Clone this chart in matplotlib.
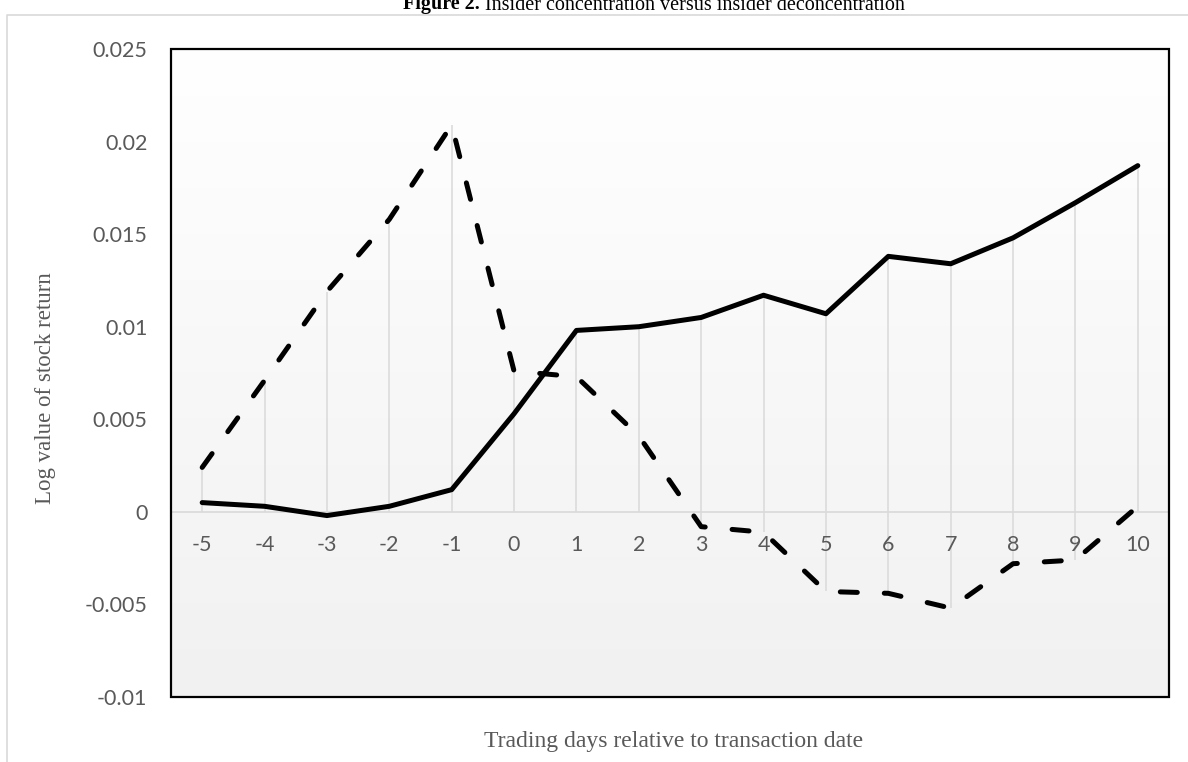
import matplotlib
matplotlib.use('Agg')
import matplotlib.pyplot as plt
import numpy as np
from matplotlib.colors import LinearSegmentedColormap
from matplotlib.lines import Line2D
from matplotlib.patches import Rectangle

# values
days = list(range(-5, 11))
concentration = [0.0005, 0.0003, -0.0002, 0.0003, 0.0012, 0.0053, 0.0098, 0.0100,
                 0.0105, 0.0117, 0.0107, 0.0138, 0.0134, 0.0148, 0.0167, 0.0187]
deconcentration = [0.0024, 0.0071, 0.0119, 0.0158, 0.0209, 0.0076, 0.0073, 0.0041,
                   -0.0008, -0.0011, -0.0043, -0.0044, -0.0052, -0.0028, -0.0026, 0.0003]
y_ticks = [-0.01, -0.005, 0, 0.005, 0.01, 0.015, 0.02, 0.025]
y_tick_labels = ['-0.01', '-0.005', '0', '0.005', '0.01', '0.015', '0.02', '0.025']
x_tick_labels = [str(d) for d in days]

W, H = 1188, 762
fig = plt.figure(figsize=(W / 100, H / 100), dpi=100)
fig.patch.set_facecolor('white')

# outer chart border (light gray), cut by the page edge
fig.add_artist(Line2D([7 / W, 7 / W, 1.0], [0, 1 - 15 / H, 1 - 15 / H],
                      transform=fig.transFigure, color='#d9d9d9', lw=1.2))

ax = fig.add_axes([171 / W, 1 - 697 / H, 998 / W, 648 / H])

# plot area gradient
grad = np.linspace(0, 1, 256).reshape(-1, 1)
cmap = LinearSegmentedColormap.from_list('bg', ['#ffffff', '#f1f1f1'])
ax.imshow(grad, cmap=cmap, extent=[-5.5, 10.5, -0.01, 0.025], aspect='auto',
          origin='upper', zorder=0)

# drop lines
a = np.array(concentration)
b = np.array(deconcentration)
lows = np.minimum(np.minimum(a, b), 0)
highs = np.maximum(np.maximum(a, b), 0)
ax.vlines(days, lows, highs, color='#d9d9d9', lw=1.1, zorder=1)

ax.plot(days, concentration, color='black', lw=3.6, solid_capstyle='round',
        solid_joinstyle='round', zorder=3)
ax.plot(days, deconcentration, color='black', lw=3.6, linestyle=(0, (3.4, 5.4)),
        dash_capstyle='round', dash_joinstyle='round', zorder=3)

ax.set_xlim(-5.5, 10.5)
ax.set_ylim(-0.01, 0.025)

for s in ['top', 'left', 'right']:
    ax.spines[s].set_visible(False)
ax.spines['bottom'].set_position(('data', 0))
ax.spines['bottom'].set_color('#d9d9d9')
ax.spines['bottom'].set_linewidth(1.2)
ax.spines['bottom'].set_zorder(1)

ax.set_xticks(days)
ax.set_xticklabels(x_tick_labels, fontfamily='Lato')
ax.set_yticks(y_ticks)
ax.set_yticklabels(y_tick_labels, fontfamily='Lato')
ax.tick_params(axis='both', length=0, labelsize=15.5, labelcolor='#595959')
ax.tick_params(axis='x', pad=17)
ax.tick_params(axis='y', pad=17)

# black frame round the plot area
ax.add_patch(Rectangle((0, 0), 1, 1, transform=ax.transAxes, fill=False,
                       edgecolor='black', lw=1.6, clip_on=False, zorder=5))

fig.text(46 / W, 1 - 388 / H, 'Log value of stock return', rotation=90,
         ha='center', va='center', family='Liberation Serif', size=16.5, color='#595959')
fig.text(674 / W, 1 - 742 / H, 'Trading days relative to transaction date',
         ha='center', va='center', family='Liberation Serif', size=17, color='#595959')

# title, partly cut off at the top
yb = 1 - 9.5 / H
t1 = fig.text(0, yb, 'Figure 2.', weight='bold', family='Liberation Serif',
              size=14.5, va='baseline')
t2 = fig.text(0, yb, ' Insider concentration versus insider deconcentration',
              family='Liberation Serif', size=14.5, va='baseline')
fig.canvas.draw()
r = fig.canvas.get_renderer()
w1 = t1.get_window_extent(r).width
w2 = t2.get_window_extent(r).width
x0 = 654 - (w1 + w2) / 2
t1.set_x(x0 / W)
t2.set_x((x0 + w1) / W)

fig.savefig('out.png', dpi=100)
